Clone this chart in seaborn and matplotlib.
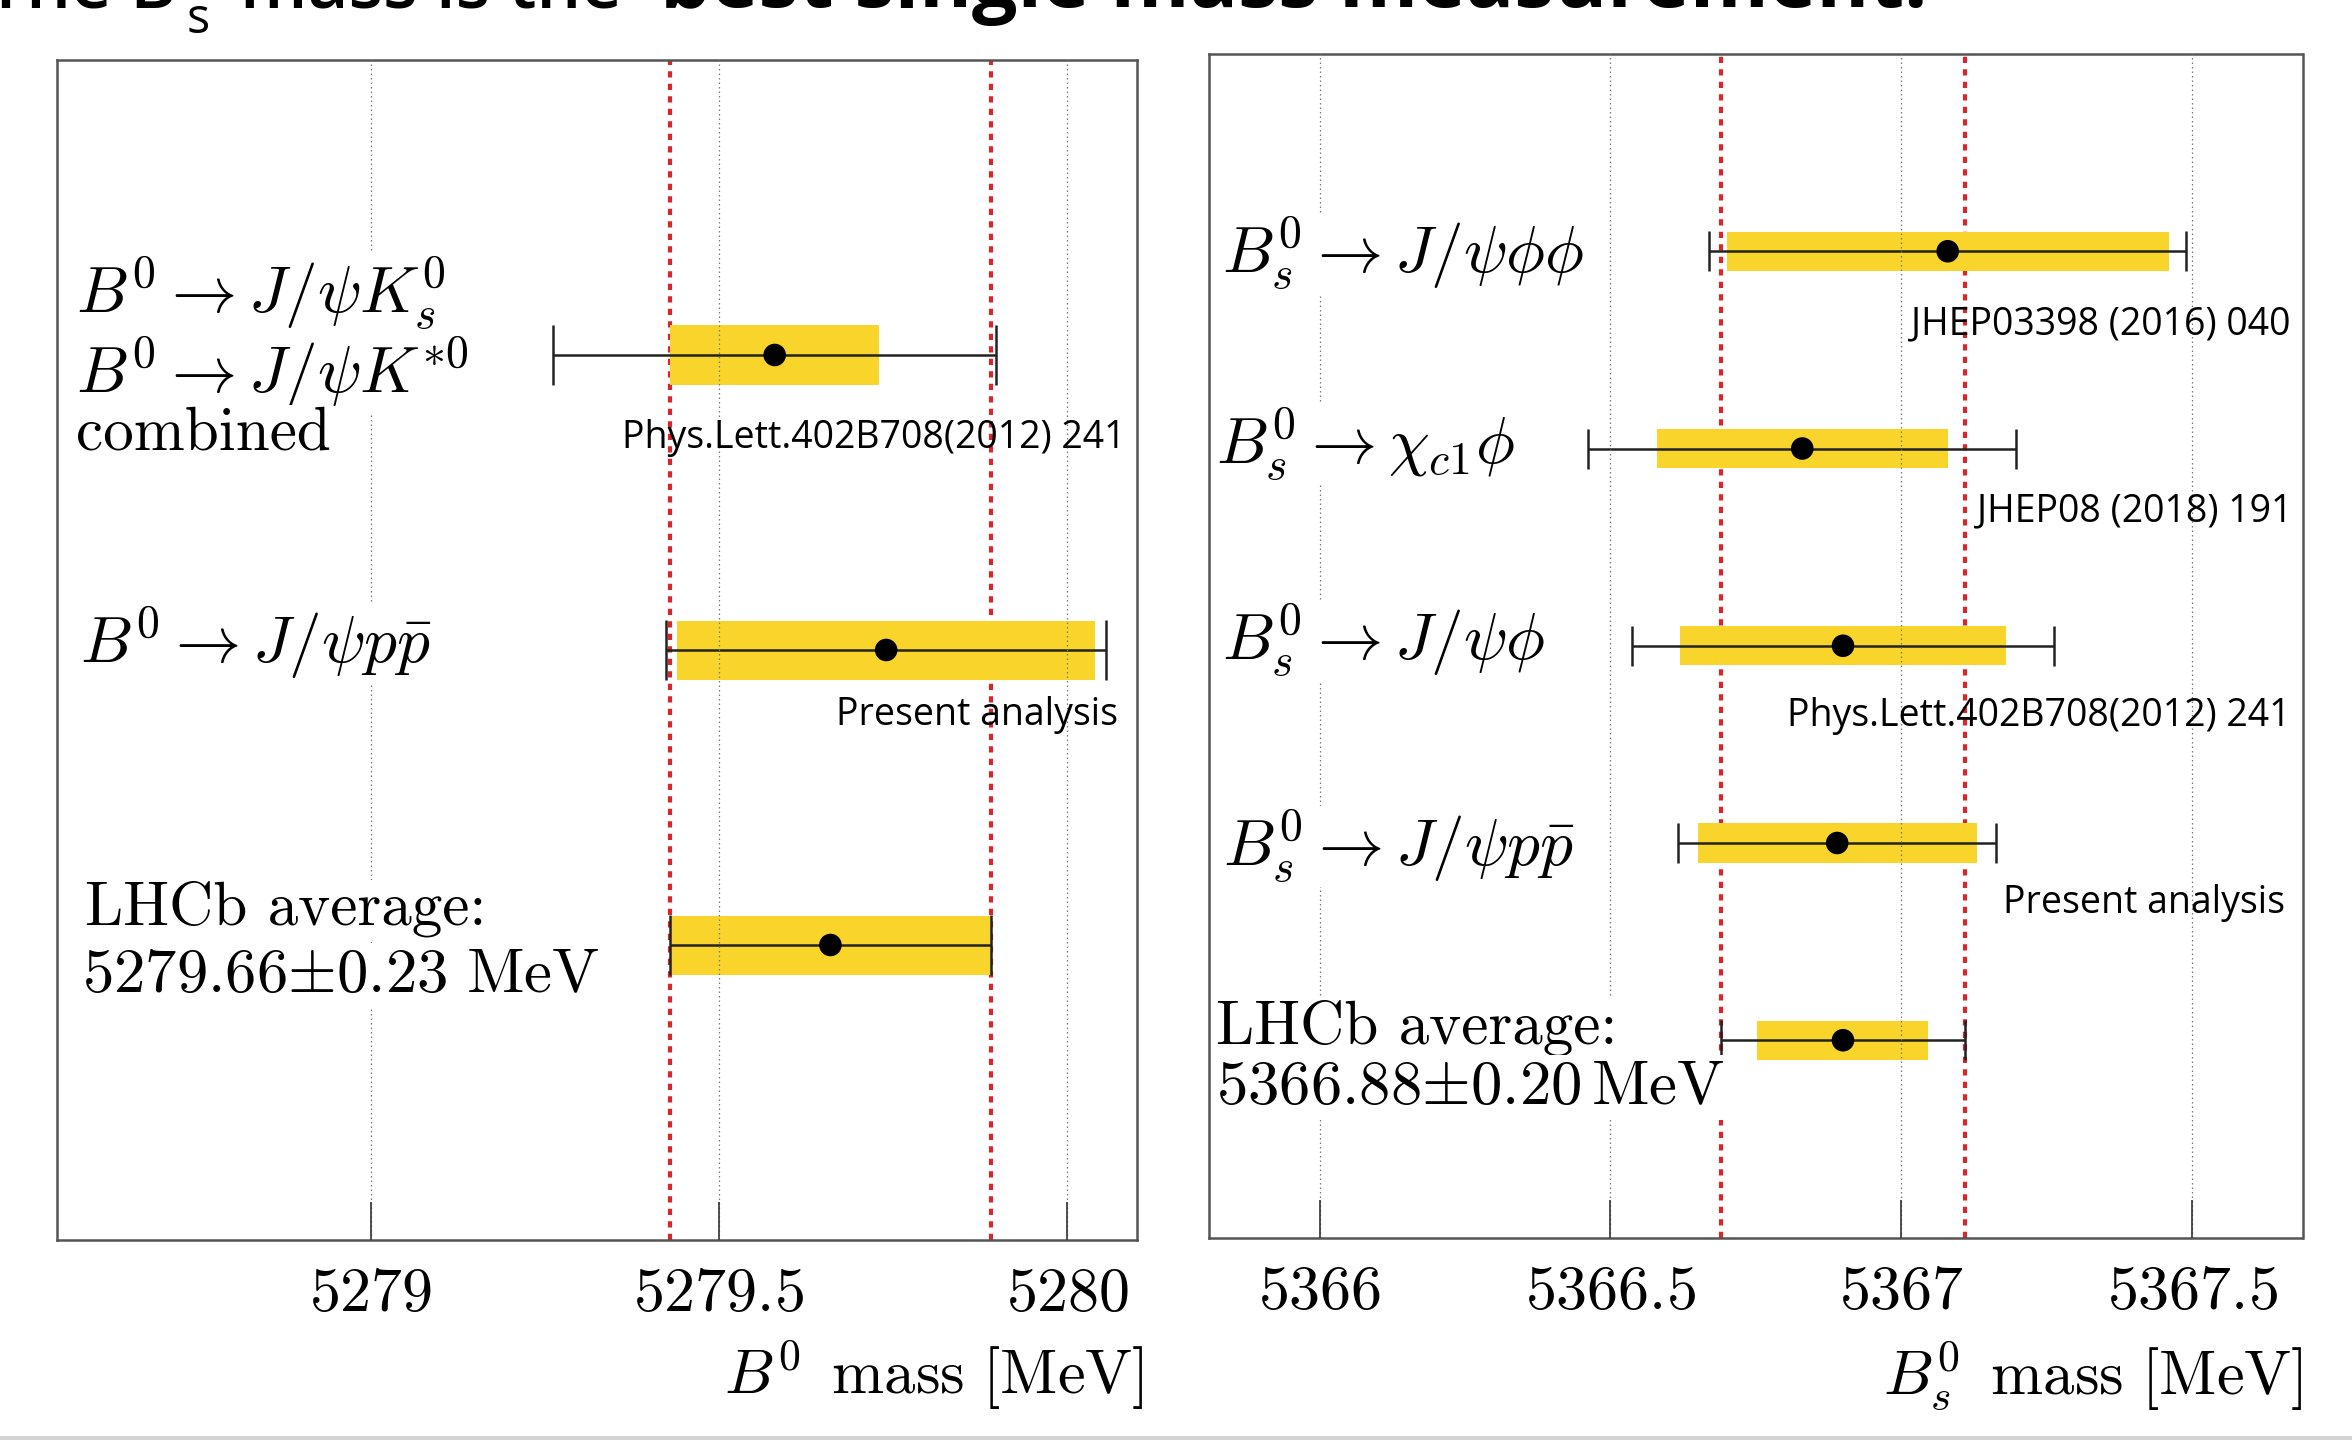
import numpy as np
import pandas as pd
import matplotlib
matplotlib.use("Agg")
import matplotlib.pyplot as plt
import seaborn as sns
from matplotlib.patches import Rectangle
from matplotlib.ticker import FuncFormatter, FixedLocator

# ---------------- data ----------------
b0_rows = [3, 2, 1]
b0_mass = [5279.58, 5279.74, 5279.66]
b0_stat = [0.15, 0.30, 0.23]
b0_total = [0.318, 0.316, 0.23]
b0_average = 5279.66
b0_average_err = 0.23
b0_ticks = [5279, 5279.5, 5280]
b0_xlim = (5278.55, 5280.10)

bs_rows = [5, 4, 3, 2, 1]
bs_mass = [5367.08, 5366.83, 5366.90, 5366.89, 5366.90]
bs_stat = [0.38, 0.25, 0.28, 0.24, 0.147]
bs_total = [0.41, 0.368, 0.362, 0.273, 0.21]
bs_average = 5366.90
bs_average_err = 0.21
bs_ticks = [5366, 5366.5, 5367, 5367.5]
bs_xlim = (5365.81, 5367.69)

b0_labels = [r'$B^0 \rightarrow J/\psi K_s^0$', r'$B^0 \rightarrow J/\psi K^{*0}$', 'combined',
             r'$B^0 \rightarrow J/\psi p\bar{p}$',
             'LHCb average:', r'$5279.66{\pm}0.23\ \mathrm{MeV}$']
bs_labels = [r'$B_s^0 \rightarrow J/\psi \phi\phi$', r'$B_s^0 \rightarrow \chi_{c1}\phi$',
             r'$B_s^0 \rightarrow J/\psi \phi$', r'$B_s^0 \rightarrow J/\psi p\bar{p}$',
             'LHCb average:', r'$5366.88{\pm}0.20\,\mathrm{MeV}$']
b0_refs = ['Phys.Lett.402B708(2012) 241', 'Present analysis']
bs_refs = ['JHEP03398 (2016) 040', 'JHEP08 (2018) 191', 'Phys.Lett.402B708(2012) 241', 'Present analysis']

title_regular = 'The B'
title_sub = 's'
title_mid = 'mass is the'
title_bold = 'best single mass measurement.'

# ---------------- layout (positions only) ----------------
b0_label_pos = [(0.0176, 3.142), (0.0176, 2.871), (0.0176, 2.678), (0.021, 1.956), (0.026, 1.068), (0.023, 0.841)]
bs_label_pos = [(0.0119, 4.890), (0.0066, 3.921), (0.0119, 2.925), (0.013, 1.883), (0.0064, 0.983), (0.0064, 0.678)]
b0_ref_pos = [(0.989, 2.719), (0.982, 1.778)]
bs_ref_pos = [(0.989, 4.631), (0.991, 3.681), (0.989, 2.646), (0.984, 1.696)]

W, H = 2352, 1440
DPI = 200

sns.set_theme(style="white")
plt.rcParams['font.family'] = ['Open Sans', 'DejaVu Sans']
plt.rcParams['mathtext.fontset'] = 'cm'
plt.rcParams['axes.formatter.use_mathtext'] = True

fig = plt.figure(figsize=(W / DPI, H / DPI), dpi=DPI)
fig.patch.set_facecolor('white')

ax_l = fig.add_axes([57 / W, (H - 1240) / H, 1080 / W, 1180 / H])
ax_r = fig.add_axes([1209 / W, (H - 1237.5) / H, 1093.5 / W, 1183.5 / H])

YELLOW = '#F9D42A'
RED = '#D9262B'
PLAIN_FS = 22
MATH_FS = 23.5
NUM_FS = 22.6
TICK_FS = 22.3
REF_FS = 13.5


def draw_panel(ax, rows, mass, stat, total, avg, avg_err, ticks, xlim, ylim,
               capsize, labels, label_pos, refs, ref_pos, xlabel, xlabel_x, xlabel_y):
    df = pd.DataFrame({'row': rows, 'mass': mass, 'stat': stat, 'total': total})
    # statistical uncertainty boxes
    ax.barh(df['row'], 2 * df['stat'], left=df['mass'] - df['stat'], height=0.2,
            color=YELLOW, edgecolor='none', zorder=1)
    # total uncertainty whiskers
    ax.errorbar(df['mass'], df['row'], xerr=df['total'], fmt='none', ecolor='#222222',
                elinewidth=0.9, capsize=capsize, capthick=0.9, zorder=2)
    sns.scatterplot(data=df, x='mass', y='row', ax=ax, color='black', s=66,
                    edgecolor='none', legend=False, zorder=4)
    # average band edges
    for v in (avg - avg_err, avg + avg_err):
        ax.axvline(v, color=RED, lw=1.5, dashes=(1.5, 1.5), zorder=0.9)

    ax.set_xlim(*xlim)
    ax.set_ylim(*ylim)
    ax.xaxis.set_major_locator(FixedLocator(ticks))
    ax.xaxis.set_major_formatter(FuncFormatter(lambda v, p: f'${v:g}$'))
    ax.set_yticks([])
    ax.set_ylabel('')
    ax.grid(axis='x', color='#777777', lw=0.45, linestyle=(0, (1.2, 2.4)))
    ax.grid(axis='y', visible=False)
    ax.set_axisbelow(False)
    ax.tick_params(axis='x', direction='in', length=13.7, width=0.6, color='#333333',
                   labelsize=TICK_FS, pad=8.5, bottom=True, top=False, labelcolor='black')
    for sp in ax.spines.values():
        sp.set_visible(True)
        sp.set_color('#555555')
        sp.set_linewidth(0.9)

    tr = ax.get_yaxis_transform()
    for i, (txt, (x, y)) in enumerate(zip(labels, label_pos)):
        kw = {}
        if not txt.startswith('$'):
            kw['family'] = 'cmr10'
            fs = PLAIN_FS
        elif i == len(labels) - 1:
            fs = NUM_FS
        else:
            fs = MATH_FS
        ax.text(x, y, txt, transform=tr, ha='left', va='baseline', fontsize=fs,
                color='black', zorder=3,
                bbox=dict(facecolor='white', edgecolor='none', pad=0.5), **kw)
    for txt, (x, y) in zip(refs, ref_pos):
        ax.text(x, y, txt, transform=tr, ha='right', va='center', fontsize=REF_FS,
                color='black', family=['Open Sans', 'DejaVu Sans'], zorder=5)

    ax.set_xlabel(xlabel, fontsize=PLAIN_FS + 0.5, color='black')
    ax.xaxis.set_label_coords(xlabel_x, xlabel_y)
    ax.xaxis.label.set_ha('right')
    ax.xaxis.label.set_va('baseline')


draw_panel(ax_l, b0_rows, b0_mass, b0_stat, b0_total, b0_average, b0_average_err,
           b0_ticks, b0_xlim, (0, 4), 10.8, b0_labels, b0_label_pos, b0_refs, b0_ref_pos,
           r'$B^0\ \,\mathrm{mass}\ [\mathrm{MeV}]$', 1.006, -(1394 - 1240) / 1180)
draw_panel(ax_r, bs_rows, bs_mass, bs_stat, bs_total, bs_average, bs_average_err,
           bs_ticks, bs_xlim, (0, 6), 7.2, bs_labels, bs_label_pos, bs_refs, bs_ref_pos,
           r'$B_s^0\ \,\mathrm{mass}\ [\mathrm{MeV}]$', 1.0, -(1394 - 1237.5) / 1183.5)

# ---------------- cropped slide title ----------------
renderer = fig.canvas.get_renderer()


def fit(t, target_px):
    w = t.get_window_extent(renderer).width
    t.set_fontsize(t.get_fontsize() * target_px / w)


t_bold = fig.text(660 / W, 1 - 7 / H, title_bold, fontsize=28, fontweight='bold',
                  ha='left', va='baseline', color='black')
fit(t_bold, 1268)
bold_fs = t_bold.get_fontsize()
t_mid = fig.text(240 / W, 1 - 7 / H, title_mid, fontsize=bold_fs, fontweight='semibold',
                 ha='left', va='baseline', color='black')
fit(t_mid, 382)
t_reg = fig.text(177 / W, 1 - 7 / H, title_regular, fontsize=t_mid.get_fontsize(),
                 fontweight='semibold', ha='right', va='baseline', color='black')
t_sub = fig.text(187 / W, 1 - 33 / H, title_sub, fontsize=17.5,
                 ha='left', va='baseline', color='black')

# slide bottom border
fig.add_artist(Rectangle((0, 0), 1, 4 / H, transform=fig.transFigure,
                         facecolor='#d4d4d4', edgecolor='none'))

fig.savefig('out.png', dpi=DPI)
